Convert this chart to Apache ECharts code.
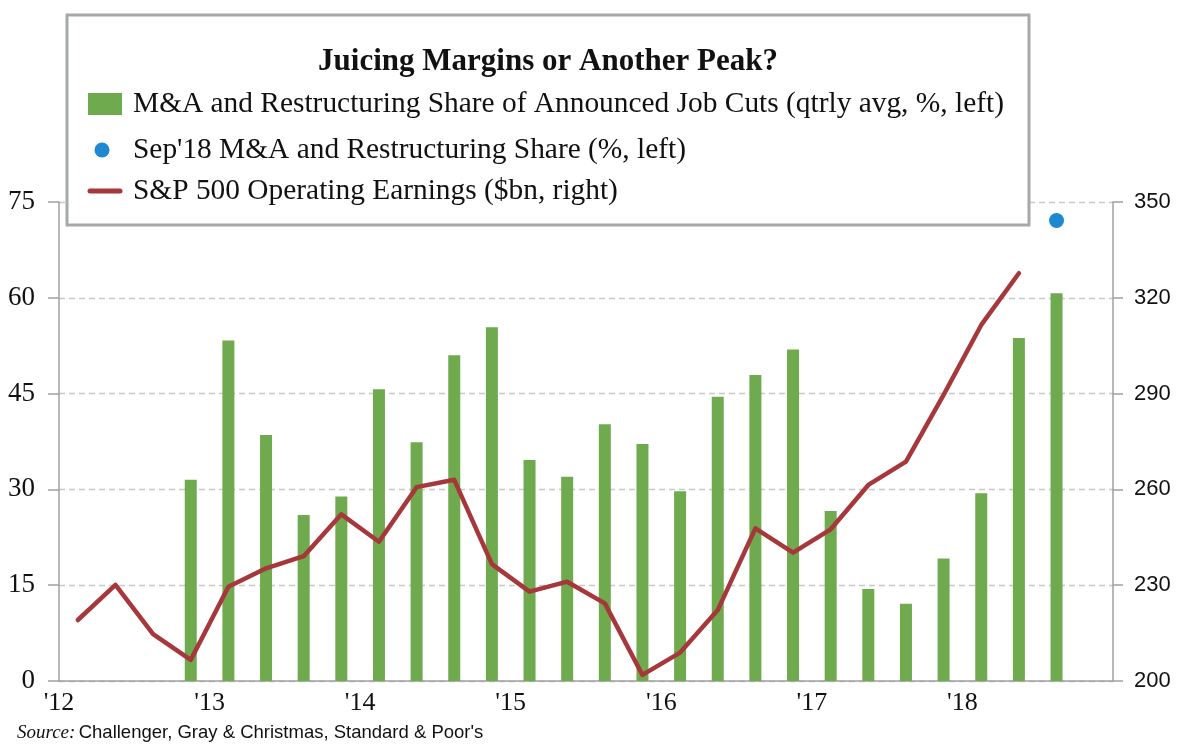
<!DOCTYPE html>
<html>
<head>
<meta charset="utf-8">
<script src="https://cdn.jsdelivr.net/npm/echarts@6/dist/echarts.min.js"></script>
<style>html,body{margin:0;padding:0;background:#fff}#c{width:1200px;height:748px}</style>
</head>
<body>
<div id="c"></div>
<script>
// Quarterly categories, Q1 2012 .. Q4 2018
const quarters = ['Q1 12','Q2 12','Q3 12','Q4 12','Q1 13','Q2 13','Q3 13','Q4 13','Q1 14','Q2 14','Q3 14','Q4 14','Q1 15','Q2 15','Q3 15','Q4 15','Q1 16','Q2 16','Q3 16','Q4 16','Q1 17','Q2 17','Q3 17','Q4 17','Q1 18','Q2 18','Q3 18','Q4 18'];
// M&A and restructuring share of announced job cuts (qtrly avg, %)
const mnaShare = [null,null,null,31.5,53.3,38.5,26.0,28.9,45.7,37.4,51.0,55.4,34.6,32.0,40.2,37.1,29.7,44.5,47.9,51.9,26.6,14.4,12.1,19.2,29.4,53.7,60.7,null];
// Sep'18 single-month value
const sep18Share = [null,null,null,null,null,null,null,null,null,null,null,null,null,null,null,null,null,null,null,null,null,null,null,null,null,null,72.1,null];
// S&P 500 operating earnings ($bn)
const spEarnings = [219.1,230.1,214.7,206.6,229.5,235.3,239.1,252.2,243.6,260.7,263.0,236.6,228.0,231.1,224.3,201.9,208.9,222.2,247.8,240.2,247.5,261.4,268.7,289.6,311.5,327.7,null,null];
// Year tick labels (one every 4 quarters)
const yearLabels = ["'12","'13","'14","'15","'16","'17","'18"];

const names = [
  'M&A and Restructuring Share of Announced Job Cuts (qtrly avg, %, left)',
  "Sep'18 M&A and Restructuring Share (%, left)",
  'S&P 500 Operating Earnings ($bn, right)'
];
const GREEN = '#70AA4F', RED = '#A6373B', BLUE = '#1E88D0', AX = '#A0A0A0';
const SERIF = '"Liberation Serif", "DejaVu Serif", serif';
const SANS = '"Liberation Sans", Arial, sans-serif';

const chart = echarts.init(document.getElementById('c'), null, {renderer: 'canvas'});
chart.setOption({
  animation: false,
  backgroundColor: '#fff',
  grid: {left: 59, right: 87, top: 202, bottom: 67, containLabel: false},
  xAxis: [{
    type: 'category', data: quarters, boundaryGap: true,
    axisLine: {show: true, lineStyle: {color: AX, width: 1.5}},
    axisTick: {show: false}, axisLabel: {show: false}, splitLine: {show: false}
  }, {
    type: 'value', min: 0, max: 28, interval: 4, position: 'bottom',
    axisLine: {show: false}, axisTick: {show: false}, splitLine: {show: false},
    axisLabel: {
      show: true, showMaxLabel: false, margin: 9,
      fontFamily: SERIF, fontSize: 26, color: '#111',
      formatter: v => yearLabels[Math.round(v / 4)] || ''
    }
  }],
  yAxis: [{
    type: 'value', min: 0, max: 75, interval: 15, position: 'left',
    axisLine: {show: true, lineStyle: {color: AX, width: 1.5}},
    axisTick: {show: true, inside: false, length: 11, lineStyle: {color: AX, width: 1.5}},
    axisLabel: {margin: 24, fontFamily: SERIF, fontSize: 27, color: '#111'},
    splitLine: {show: true, lineStyle: {color: '#C8C8C8', width: 1.3, type: [6, 4]}}
  }, {
    type: 'value', min: 200, max: 350, interval: 30, position: 'right',
    axisLine: {show: true, lineStyle: {color: AX, width: 1.5}},
    axisTick: {show: true, inside: false, length: 10, lineStyle: {color: AX, width: 1.5}},
    axisLabel: {margin: 21, fontFamily: SANS, fontSize: 22, color: '#111'},
    splitLine: {show: false}
  }],
  series: [{
    name: names[0], type: 'bar', xAxisIndex: 0, yAxisIndex: 0,
    data: mnaShare, barWidth: 12, itemStyle: {color: GREEN}, z: 2
  }, {
    name: names[2], type: 'line', xAxisIndex: 0, yAxisIndex: 1,
    data: spEarnings, showSymbol: false, symbol: 'none',
    lineStyle: {color: RED, width: 4.5, cap: 'round', join: 'round'},
    itemStyle: {color: RED}, z: 3
  }, {
    name: names[1], type: 'scatter', xAxisIndex: 0, yAxisIndex: 0,
    data: sep18Share, symbol: 'circle', symbolSize: 15,
    itemStyle: {color: BLUE, opacity: 1}, z: 4
  }],
  graphic: [
    {type: 'rect', z: 100, shape: {x: 67, y: 15, width: 962, height: 210},
      style: {fill: '#fff', stroke: '#A6AAA6', lineWidth: 3}},
    {type: 'text', z: 101, x: 548, y: 62,
      style: {text: 'Juicing Margins or Another Peak?', fontFamily: SERIF, fontWeight: 'bold',
        fontSize: 31, fill: '#111', align: 'center', verticalAlign: 'middle'}},
    {type: 'rect', z: 101, shape: {x: 88, y: 93, width: 34, height: 22}, style: {fill: GREEN}},
    {type: 'text', z: 101, x: 133, y: 104,
      style: {text: names[0], fontFamily: SERIF, fontSize: 29.4, fill: '#111', verticalAlign: 'middle'}},
    {type: 'circle', z: 101, shape: {cx: 102, cy: 150, r: 7.5}, style: {fill: BLUE}},
    {type: 'text', z: 101, x: 133, y: 150,
      style: {text: names[1], fontFamily: SERIF, fontSize: 29.4, fill: '#111', verticalAlign: 'middle'}},
    {type: 'line', z: 101, shape: {x1: 90, y1: 191, x2: 120, y2: 191},
      style: {stroke: RED, lineWidth: 5, lineCap: 'round'}},
    {type: 'text', z: 101, x: 133, y: 191,
      style: {text: names[2], fontFamily: SERIF, fontSize: 29.4, fill: '#111', verticalAlign: 'middle'}},
    {type: 'text', z: 101, x: 17, y: 733,
      style: {
        text: '{i|Source:} {n|Challenger, Gray & Christmas, Standard & Poor\'s}',
        verticalAlign: 'middle',
        rich: {
          i: {fontFamily: SERIF, fontStyle: 'italic', fontSize: 19, fill: '#111'},
          n: {fontFamily: SANS, fontSize: 18.5, fill: '#111'}
        }
      }}
  ]
});
</script>
</body>
</html>
